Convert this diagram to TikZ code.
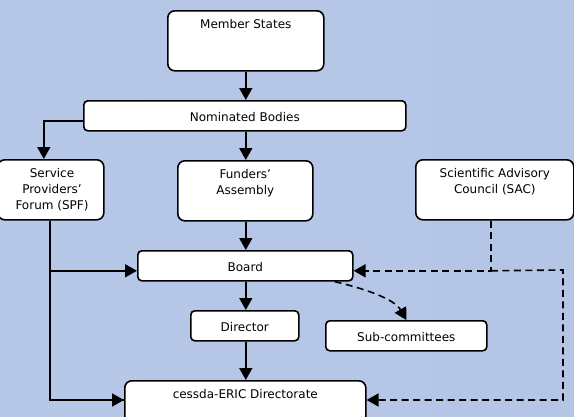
\documentclass[tikz,border=0pt]{standalone}
\usepackage{fontspec}
\setmainfont{DejaVu Sans}
\usetikzlibrary{arrows.meta,calc}
\definecolor{bgl}{RGB}{182,199,231}
\definecolor{bgm}{RGB}{197,213,238}
\definecolor{bgr}{RGB}{181,197,230}
\tikzset{
  box/.style={draw=black, line width=1.6pt, fill=white, rounded corners=7pt, anchor=north west, inner sep=0pt},
  thinbox/.style={box, rounded corners=4pt},
  boxtext/.style={anchor=north, align=center, font=\fontsize{12}{16}\selectfont, inner sep=0pt},
  conn/.style={line width=1.6pt, -{Triangle[length=12pt,width=13pt]}},
  dconn/.style={conn, dash pattern=on 7pt off 4.5pt},
}
\begin{document}
\begin{tikzpicture}[x=1pt,y=-1pt]
\useasboundingbox (0,0) rectangle (574,416);
\clip (0,0) rectangle (574,416);
\shade[left color=bgl, middle color=bgm, right color=bgr] (0,0) rectangle (574,416);

% boxes
\node[box, minimum width=156, minimum height=60] (ms) at (167,10) {};
\node[boxtext] at ($(ms.north)+(0,9)$) {Member States};

\node[thinbox, minimum width=322, minimum height=30] (nb) at (83,100) {};
\node[boxtext, anchor=center] at ($(nb.center)+(0,1)$) {Nominated Bodies};

\node[box, minimum width=106, minimum height=60] (spf) at (-3,159) {};
\node[boxtext] at (52,168) {Service\\Providers’\\Forum (SPF)};

\node[box, minimum width=135, minimum height=60] (fa) at (177,160) {};
\node[boxtext] at ($(fa.north)+(0,9)$) {Funders’\\Assembly};

\node[box, minimum width=158, minimum height=60] (sac) at (415,159) {};
\node[boxtext] at ($(sac.north)+(0,9)$) {Scientific Advisory\\Council (SAC)};

\node[thinbox, minimum width=215, minimum height=30] (bd) at (137,250) {};
\node[boxtext, anchor=center] at ($(bd.center)+(0,1)$) {Board};

\node[thinbox, minimum width=108, minimum height=30] (dir) at (190,310) {};
\node[boxtext, anchor=center] at ($(dir.center)+(0,1)$) {Director};

\node[thinbox, minimum width=161, minimum height=30] (sub) at (325,320) {};
\node[boxtext, anchor=center] at ($(sub.center)+(0,1)$) {Sub-committees};

\node[box, minimum width=241, minimum height=60] (cd) at (124,380) {};
\node[boxtext] at ($(cd.north)+(0,9)$) {cessda-ERIC Directorate};

% connectors
\draw[conn] (ms.south) -- (ms.south |- nb.north);
\draw[conn] (ms.south |- nb.south) -- (ms.south |- fa.north);
\draw[conn] (ms.south |- fa.south) -- (ms.south |- bd.north);
\draw[conn] (ms.south |- bd.south) -- (ms.south |- dir.north);
\draw[conn] (ms.south |- dir.south) -- (ms.south |- cd.north);

\coordinate (nbl) at ($(nb.west)+(0,5)$);
\draw[conn] (nbl) -| ($(spf.north)+(-7,0)$);

\coordinate (spfb) at ($(spf.south)+(-1,0)$);
\coordinate (bdw) at ($(bd.west)+(0,5)$);
\coordinate (cdw) at ($(cd.north west)+(0,20)$);
\draw[line width=1.6pt] (spfb) |- (cdw);
\draw[conn] (spfb |- bdw) -- (bdw);
\draw[conn] ($(cdw)+(-10,0)$) -- (cdw);

\coordinate (sacb) at ($(sac.south)+(-4,0)$);
\coordinate (bde) at ($(bd.east)+(0,5)$);
\coordinate (cde) at ($(cd.north east)+(0,20)$);
\coordinate (rc) at (563,270);
\draw[dconn] (sacb) |- (bde);
\draw[dconn] (sacb |- bde) -- (rc) |- (cde);

\coordinate (bds) at ($(bd.south east)+(-19,0)$);
\draw[dconn] (bds) .. controls (370,290) and (395,300) .. (sub.north);
\end{tikzpicture}
\end{document}
